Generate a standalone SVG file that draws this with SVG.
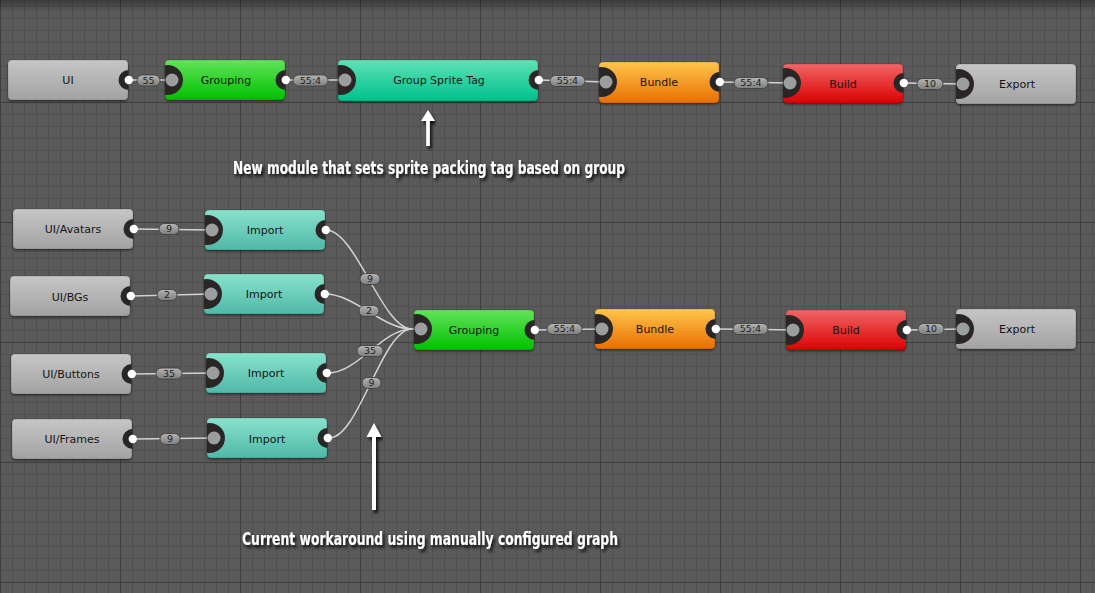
<svg xmlns="http://www.w3.org/2000/svg" xmlns:xlink="http://www.w3.org/1999/xlink" width="1095" height="593" viewBox="0 0 1095 593">
<defs>
<pattern id="minor" x="0" y="6" width="12" height="12" patternUnits="userSpaceOnUse"><path d="M0 0.5H12M0.5 0V12" stroke="#505050" stroke-width="1" fill="none"/></pattern>
<pattern id="major" x="0" y="102" width="120" height="120" patternUnits="userSpaceOnUse"><path d="M0 0.5H120M0.5 0V120" stroke="#3e3e3e" stroke-width="1" fill="none"/></pattern>
<linearGradient id="topshade" x1="0" y1="0" x2="0" y2="1"><stop offset="0" stop-color="#000" stop-opacity="0.35"/><stop offset="1" stop-color="#000" stop-opacity="0"/></linearGradient>
<linearGradient id="gGray" x1="0" y1="0" x2="0" y2="1"><stop offset="0" stop-color="#c6c6c6"/><stop offset="1" stop-color="#a2a2a2"/></linearGradient>
<linearGradient id="gGreen" x1="0" y1="0" x2="0" y2="1"><stop offset="0" stop-color="#62e45a"/><stop offset="1" stop-color="#00bf00"/></linearGradient>
<linearGradient id="gTeal" x1="0" y1="0" x2="0" y2="1"><stop offset="0" stop-color="#5ee2b6"/><stop offset="1" stop-color="#00c08c"/></linearGradient>
<linearGradient id="gImport" x1="0" y1="0" x2="0" y2="1"><stop offset="0" stop-color="#88e2cc"/><stop offset="1" stop-color="#50b8a8"/></linearGradient>
<linearGradient id="gOrange" x1="0" y1="0" x2="0" y2="1"><stop offset="0" stop-color="#ffc64c"/><stop offset="1" stop-color="#e86e00"/></linearGradient>
<linearGradient id="gRed" x1="0" y1="0" x2="0" y2="1"><stop offset="0" stop-color="#f06666"/><stop offset="1" stop-color="#dc0000"/></linearGradient>
<linearGradient id="gPill" x1="0" y1="0" x2="0" y2="1"><stop offset="0" stop-color="#b4b4b4"/><stop offset="1" stop-color="#7e7e7e"/></linearGradient>
<filter id="nshadow" x="-10%" y="-20%" width="120%" height="150%"><feDropShadow dx="0" dy="1.5" stdDeviation="1.2" flood-color="#000" flood-opacity="0.45"/></filter>
<filter id="tshadow" x="-5%" y="-30%" width="110%" height="180%"><feDropShadow dx="2" dy="3" stdDeviation="1.5" flood-color="#000" flood-opacity="0.8"/></filter>
<g id="inPort"><path d="M0,-14.7 A15,15 0 1,1 0,14.7 Z" fill="#2b2626"/><circle cx="7" cy="0" r="6.5" fill="#9a9e9e"/></g>
<g id="outPort"><path d="M0.5,-10 A10,10 0 0,0 0.5,10 Z" fill="#2b2626"/><circle cx="0.8" cy="0" r="4.2" fill="#ffffff"/></g>
</defs>
<style>
.node rect{filter:url(#nshadow);stroke:#000;stroke-opacity:0.25;stroke-width:0.6}
.node text{font-family:"DejaVu Sans","Liberation Sans",sans-serif;font-size:11px;fill:#141414;text-anchor:middle}
.wire{stroke:#d2d2d2;stroke-width:1.5;fill:none}
.pill rect{fill:url(#gPill);stroke:#3a3a3a;stroke-width:0.8}
.pill text{font-family:"DejaVu Sans","Liberation Sans",sans-serif;font-size:9.5px;fill:#1e1e1e;text-anchor:middle}
.note{font-family:"DejaVu Sans Condensed","DejaVu Sans",sans-serif;font-weight:bold;font-size:18px;fill:#ffffff;filter:url(#tshadow)}
.arrow{fill:#ffffff;filter:url(#tshadow)}
</style>
<rect width="1095" height="593" fill="#5a5a5a"/>
<rect width="1095" height="593" fill="url(#minor)"/>
<rect width="1095" height="593" fill="url(#major)"/>
<rect width="1095" height="12" fill="url(#topshade)"/>

<g id="connectors">
<path class="wire" d="M129,80 L172,80"/>
<path class="wire" d="M286,80 L345,80"/>
<path class="wire" d="M539,80 L606,82"/>
<path class="wire" d="M720,82 L790,83"/>
<path class="wire" d="M904,83 L962,84"/>
<path class="wire" d="M134,229 L212,230"/>
<path class="wire" d="M132,296 L211,294"/>
<path class="wire" d="M133,374 L213,373"/>
<path class="wire" d="M134,439 L214,438"/>
<path class="wire" d="M326,230 C356,230 382,329 412,329 L421,329"/>
<path class="wire" d="M325,294 C355,294 382,329 412,329"/>
<path class="wire" d="M328,373 C358,373 382,329 412,329"/>
<path class="wire" d="M329,438 C359,438 382,329 412,329"/>
<path class="wire" d="M536,330 L602,329"/>
<path class="wire" d="M716,329 L793,330"/>
<path class="wire" d="M908,330 L963,329"/>
<g class="pill"><rect x="137" y="75" width="23" height="11" rx="5.5"/><text x="148.5" y="83.8">55</text></g>
<g class="pill"><rect x="293" y="75" width="35" height="11" rx="5.5"/><text x="310.5" y="83.8">55:4</text></g>
<g class="pill"><rect x="550" y="75.5" width="35" height="11" rx="5.5"/><text x="567.5" y="84.3">55:4</text></g>
<g class="pill"><rect x="734" y="77.5" width="34" height="11" rx="5.5"/><text x="751" y="86.3">55:4</text></g>
<g class="pill"><rect x="917" y="78.5" width="26" height="11" rx="5.5"/><text x="930" y="87.3">10</text></g>
<g class="pill"><rect x="159" y="223.5" width="20" height="11" rx="5.5"/><text x="169" y="232.3">9</text></g>
<g class="pill"><rect x="157" y="289.5" width="20" height="11" rx="5.5"/><text x="167" y="298.3">2</text></g>
<g class="pill"><rect x="156" y="368" width="26" height="11" rx="5.5"/><text x="169" y="376.8">35</text></g>
<g class="pill"><rect x="160" y="433.5" width="20" height="11" rx="5.5"/><text x="170" y="442.3">9</text></g>
<g class="pill"><rect x="360" y="273.5" width="20" height="11" rx="5.5"/><text x="370" y="282.3">9</text></g>
<g class="pill"><rect x="359" y="305.5" width="20" height="11" rx="5.5"/><text x="369" y="314.3">2</text></g>
<g class="pill"><rect x="357" y="345.5" width="26" height="11" rx="5.5"/><text x="370" y="354.3">35</text></g>
<g class="pill"><rect x="362" y="377.5" width="19" height="11" rx="5.5"/><text x="371.5" y="386.3">9</text></g>
<g class="pill"><rect x="547" y="323.5" width="35" height="11" rx="5.5"/><text x="564.5" y="332.3">55:4</text></g>
<g class="pill"><rect x="733" y="323.5" width="35" height="11" rx="5.5"/><text x="750.5" y="332.3">55:4</text></g>
<g class="pill"><rect x="918" y="323.5" width="26" height="11" rx="5.5"/><text x="931" y="332.3">10</text></g>
</g>

<g id="n-ui" class="node"><rect x="8" y="60" width="120" height="40" rx="4" fill="url(#gGray)"/><use href="#outPort" x="128" y="80"/><text x="68" y="84">UI</text></g>
<g id="n-grouping1" class="node"><rect x="165" y="60" width="120" height="40" rx="4" fill="url(#gGreen)"/><use href="#inPort" x="165" y="80"/><use href="#outPort" x="285" y="80"/><text x="226" y="84">Grouping</text></g>
<g id="n-gst" class="node"><rect x="338" y="60" width="200" height="41" rx="4" fill="url(#gTeal)"/><use href="#inPort" x="338" y="80"/><use href="#outPort" x="538" y="80"/><text x="439" y="84">Group Sprite Tag</text></g>
<g id="n-bundle1" class="node"><rect x="599" y="62" width="120" height="41" rx="4" fill="url(#gOrange)"/><use href="#inPort" x="599" y="82"/><use href="#outPort" x="719" y="82"/><text x="659" y="86">Bundle</text></g>
<g id="n-build1" class="node"><rect x="783" y="64" width="120" height="39" rx="4" fill="url(#gRed)"/><use href="#inPort" x="783" y="83"/><use href="#outPort" x="903" y="83"/><text x="843" y="87.5">Build</text></g>
<g id="n-export1" class="node"><rect x="956" y="64" width="120" height="40" rx="4" fill="url(#gGray)"/><use href="#inPort" x="956" y="84"/><text x="1017" y="88">Export</text></g>

<g id="n-avatars" class="node"><rect x="13" y="209" width="120" height="40" rx="4" fill="url(#gGray)"/><use href="#outPort" x="133" y="229"/><text x="73" y="233">UI/Avatars</text></g>
<g id="n-import1" class="node"><rect x="205" y="210" width="120" height="40" rx="4" fill="url(#gImport)"/><use href="#inPort" x="205" y="230"/><use href="#outPort" x="325" y="230"/><text x="265" y="234">Import</text></g>
<g id="n-bgs" class="node"><rect x="10" y="276" width="120" height="40" rx="4" fill="url(#gGray)"/><use href="#outPort" x="130" y="296"/><text x="70" y="301">UI/BGs</text></g>
<g id="n-import2" class="node"><rect x="204" y="274" width="120" height="40" rx="4" fill="url(#gImport)"/><use href="#inPort" x="204" y="294"/><use href="#outPort" x="324" y="294"/><text x="264" y="298">Import</text></g>
<g id="n-buttons" class="node"><rect x="11" y="354" width="120" height="40" rx="4" fill="url(#gGray)"/><use href="#outPort" x="131" y="374"/><text x="71" y="378">UI/Buttons</text></g>
<g id="n-import3" class="node"><rect x="206" y="353" width="120" height="40" rx="4" fill="url(#gImport)"/><use href="#inPort" x="206" y="373"/><use href="#outPort" x="326" y="373"/><text x="266" y="377">Import</text></g>
<g id="n-frames" class="node"><rect x="12" y="419" width="120" height="40" rx="4" fill="url(#gGray)"/><use href="#outPort" x="132" y="439"/><text x="72" y="443">UI/Frames</text></g>
<g id="n-import4" class="node"><rect x="207" y="418" width="120" height="40" rx="4" fill="url(#gImport)"/><use href="#inPort" x="207" y="438"/><use href="#outPort" x="327" y="438"/><text x="267" y="443">Import</text></g>
<g id="n-grouping2" class="node"><rect x="414" y="310" width="120" height="40" rx="4" fill="url(#gGreen)"/><use href="#inPort" x="414" y="329"/><use href="#outPort" x="534" y="330"/><text x="474" y="334">Grouping</text></g>
<g id="n-bundle2" class="node"><rect x="595" y="309" width="120" height="40" rx="4" fill="url(#gOrange)"/><use href="#inPort" x="595" y="329"/><use href="#outPort" x="715" y="329"/><text x="655" y="333">Bundle</text></g>
<g id="n-build2" class="node"><rect x="786" y="310" width="120" height="40" rx="4" fill="url(#gRed)"/><use href="#inPort" x="786" y="330"/><use href="#outPort" x="906" y="330"/><text x="846" y="334">Build</text></g>
<g id="n-export2" class="node"><rect x="956" y="309" width="120" height="40" rx="4" fill="url(#gGray)"/><use href="#inPort" x="956" y="329"/><text x="1017" y="333">Export</text></g>

<g id="annotations">
<path class="arrow" d="M428,110 L435,121 L429.8,121 L429.8,146 L426.2,146 L426.2,121 L421,121 Z"/>
<text class="note" x="233" y="174" textLength="392" lengthAdjust="spacingAndGlyphs">New module that sets sprite packing tag based on group</text>
<path class="arrow" d="M374,423 L381.5,437 L376,437 L376,510 L372,510 L372,437 L366.5,437 Z"/>
<text class="note" x="242" y="545" textLength="376" lengthAdjust="spacingAndGlyphs">Current workaround using manually configured graph</text>
</g>
</svg>
